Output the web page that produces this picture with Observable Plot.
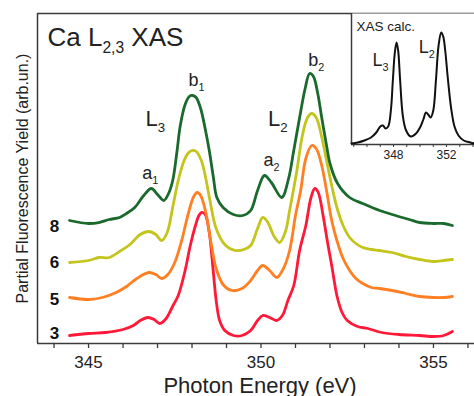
<!DOCTYPE html>
<html>
<head>
<meta charset="utf-8">
<script src="https://cdn.jsdelivr.net/npm/d3@7"></script>
<script src="https://cdn.jsdelivr.net/npm/@observablehq/plot@0.6"></script>
<style>
  body { margin: 0; background: #fff; }
  #wrap { position: relative; width: 474px; height: 396px; overflow: hidden; font-family: "Liberation Sans", Arial, sans-serif; }
  #wrap svg { position: absolute; top: 0; }
</style>
</head>
<body>
<div id="wrap"></div>
<script>
// ---------- data (energy in eV, intensity in arbitrary units) ----------
const seriesNames = ["3", "5", "6", "8"];
const seriesColors = ["#ff1838", "#ff7f22", "#c3c41c", "#1a692d"];
const seriesLabelLevels = [10, 44, 81, 117];

const spectrum3 = [[344.45,8],[345.0,10],[345.5,11],[346.0,14],[346.3,18],[346.5,23],[346.72,26],[346.9,24],[347.07,20],[347.25,25],[347.45,38],[347.6,48],[347.8,73],[347.95,98],[348.1,118],[348.2,128],[348.28,131],[348.38,129],[348.5,111],[348.6,78],[348.7,43],[348.8,23],[348.95,13],[349.2,8],[349.45,8],[349.7,13],[349.9,23],[350.05,28],[350.25,26],[350.45,23],[350.62,28],[350.78,43],[350.95,58],[351.12,93],[351.3,118],[351.45,146],[351.56,155],[351.66,151],[351.8,128],[351.92,103],[352.05,78],[352.2,48],[352.35,31],[352.5,23],[352.8,17],[353.1,15],[353.5,11],[354.0,9],[354.6,8],[355.0,7],[355.3,8],[355.55,12]];

const spectrum5 = [[344.45,46],[345.0,44],[345.4,46],[345.8,51],[346.1,57],[346.4,65],[346.75,71],[346.95,69],[347.12,65],[347.3,69],[347.5,81],[347.7,103],[347.9,131],[348.05,147],[348.15,151],[348.25,148],[348.4,131],[348.55,101],[348.7,75],[348.9,59],[349.15,53],[349.45,55],[349.7,63],[349.9,73],[350.05,78],[350.25,73],[350.46,66],[350.65,75],[350.83,93],[351.0,128],[351.15,153],[351.3,185],[351.47,198],[351.6,195],[351.76,178],[351.9,153],[352.05,123],[352.2,103],[352.38,85],[352.57,73],[352.75,65],[352.95,60],[353.2,56],[353.44,55],[353.8,53],[354.2,50],[354.6,47],[355.0,46],[355.3,46],[355.55,47]];

const spectrum6 = [[344.45,81],[345.0,83],[345.3,86],[345.6,86],[345.9,92],[346.2,99],[346.5,109],[346.75,112],[346.95,109],[347.12,103],[347.28,111],[347.45,138],[347.6,163],[347.75,181],[347.88,190],[348.0,193],[348.12,192],[348.27,183],[348.4,165],[348.52,143],[348.7,115],[348.95,99],[349.25,93],[349.5,94],[349.7,98],[349.9,115],[350.05,126],[350.2,121],[350.38,107],[350.54,101],[350.7,111],[350.83,133],[351.04,173],[351.2,208],[351.35,226],[351.47,230],[351.6,226],[351.75,208],[351.9,183],[352.05,158],[352.2,136],[352.38,118],[352.57,106],[352.75,100],[352.95,96],[353.2,94],[353.44,93],[353.8,91],[354.2,87],[354.6,84],[355.0,82],[355.3,83],[355.55,84]];

const spectrum8 = [[344.45,123],[345.0,120],[345.3,121],[345.6,124],[345.9,126],[346.1,130],[346.34,136],[346.6,148],[346.82,155],[347.0,149],[347.18,143],[347.32,150],[347.44,163],[347.56,191],[347.66,218],[347.8,239],[347.92,247],[348.02,248],[348.12,246],[348.25,235],[348.38,215],[348.5,193],[348.62,166],[348.72,146],[348.9,136],[349.2,129],[349.47,128],[349.7,133],[349.9,153],[350.1,168],[350.3,161],[350.6,146],[350.8,165],[350.95,193],[351.12,226],[351.28,255],[351.41,270],[351.52,267],[351.64,251],[351.76,226],[351.9,198],[352.0,180],[352.22,160],[352.57,146],[352.95,140],[353.44,133],[353.9,128],[354.3,124],[354.6,121],[355.0,120],[355.3,120],[355.55,118]];

const calcSpectrum = [[344.83,1],[345.3,2],[345.8,4],[346.3,7],[346.7,12],[347.0,18],[347.2,19],[347.4,16],[347.6,18],[347.8,34],[347.95,64],[348.1,92],[348.23,102],[348.35,94],[348.5,64],[348.7,29],[348.95,14],[349.3,8],[349.7,11],[350.0,17],[350.25,25],[350.45,32],[350.62,30],[350.8,27],[351.0,34],[351.2,64],[351.4,99],[351.6,112],[351.75,108],[351.9,94],[352.1,66],[352.35,36],[352.6,18],[352.9,9],[353.3,4],[353.8,2],[354.11,1]];

const mainTicks = [344,345,346,347,348,349,350,351,352,353,354,355,356];
const mainTickLabels = [345, 350, 355];
const insetTicks = [345,346,347,348,349,350,351,352,353,354];
const insetTickLabels = [348, 352];

// annotations: text, energy, intensity (text baseline)
const peakLabels = ["a_1", "b_1", "a_2", "b_2"];
const peakLabelE = [346.56, 347.9, 350.07, 351.37];
const peakLabelV = [165, 258, 178, 278];
const edgeLabels = ["L_3", "L_2"];
const edgeLabelE = [346.65, 350.2];
const edgeLabelV = [218, 218];
const insetEdgeLabels = ["L_3", "L_2"];
const insetEdgeE = [346.41, 349.9];
const insetEdgeV = [79, 92];

const titleText = "Ca L_{2,3} XAS";
const xLabel = "Photon Energy (eV)";
const yLabel = "Partial Fluorescence Yield (arb.un.)";
const insetTitle = "XAS calc.";

// ---------- build ----------
const FONT = '"Liberation Sans", Arial, sans-serif';
const INK = "#222";
const AX = "#3a3a3a";
const xDomain = [343.52, 356.19];
const yDomain = [0, 330];

const spectra = [spectrum3, spectrum5, spectrum6, spectrum8];
const rows = [];
spectra.forEach((s, i) => s.forEach(([e, v]) => rows.push({series: seriesNames[i], e, v})));
const labelRows = seriesNames.map((n, i) => ({n, e: 344.01, v: seriesLabelLevels[i]}));
const peakRows = peakLabels.map((t, i) => ({t, e: peakLabelE[i], v: peakLabelV[i]}));
const edgeRows = edgeLabels.map((t, i) => ({t, e: edgeLabelE[i], v: edgeLabelV[i]}));

const main = Plot.plot({
  width: 474, height: 396,
  marginLeft: 37, marginRight: 0, marginTop: 13, marginBottom: 53,
  style: {fontFamily: FONT, background: "white", overflow: "visible"},
  x: {domain: xDomain, label: null},
  y: {domain: yDomain, axis: null},
  color: {domain: seriesNames, range: seriesColors},
  marks: [
    Plot.ruleY([yDomain[1]], {stroke: AX, strokeWidth: 1.5}),
    Plot.ruleX([xDomain[0]], {stroke: AX, strokeWidth: 1.5}),
    Plot.ruleY([yDomain[0]], {stroke: AX, strokeWidth: 1.5}),
    Plot.axisX({ticks: mainTicks, tickFormat: () => "", tickSize: 5, stroke: AX, strokeWidth: 1.3, label: null}),
    Plot.axisX({ticks: mainTickLabels, tickSize: 0, tickPadding: 12, fontSize: 17, fill: INK, label: null}),
    Plot.line(rows, {x: "e", y: "v", z: "series", stroke: "series", strokeWidth: 2.8, curve: "catmull-rom"}),
    Plot.text(labelRows, {x: "e", y: "v", text: "n", fontWeight: "bold", fontSize: 17, fill: "#111", textAnchor: "middle", lineAnchor: "middle"}),
    Plot.text(peakRows, {x: "e", y: "v", text: "t", fontSize: 18, fill: INK, textAnchor: "start", lineAnchor: "bottom"}),
    Plot.text(edgeRows, {x: "e", y: "v", text: "t", fontSize: 22, fill: INK, textAnchor: "start", lineAnchor: "bottom"}),
    Plot.text([titleText], {frameAnchor: "top-left", text: d => d, dx: 10, dy: 32, fontSize: 26, fill: INK, textAnchor: "start", lineAnchor: "bottom"}),
    Plot.text([xLabel], {frameAnchor: "bottom", text: d => d, dx: 4, dy: 49, fontSize: 22, fill: INK, lineAnchor: "bottom"}),
    Plot.text([yLabel], {frameAnchor: "left", text: d => d, rotate: -90, dx: -10, fontSize: 16, fill: INK, textAnchor: "middle", lineAnchor: "bottom"})
  ]
});

const insetX = [344.83, 354.11];
const insetY = [0, 131];
const calcRows = calcSpectrum.map(([e, v]) => ({e, v}));
const insetLabelRows = insetEdgeLabels.map((t, i) => ({t, e: insetEdgeE[i], v: insetEdgeV[i]}));
const inset = Plot.plot({
  width: 134, height: 170,
  marginLeft: 11, marginRight: 0, marginTop: 13, marginBottom: 26,
  style: {fontFamily: FONT, background: "transparent", overflow: "visible"},
  x: {domain: insetX, label: null},
  y: {domain: insetY, axis: null},
  marks: [
    Plot.frame({fill: "white", stroke: null}),
    Plot.ruleX([insetX[0]], {stroke: AX, strokeWidth: 1.5}),
    Plot.ruleY([insetY[0]], {stroke: AX, strokeWidth: 1.5}),
    Plot.axisX({ticks: insetTicks, tickFormat: () => "", tickSize: 3, stroke: AX, label: null}),
    Plot.axisX({ticks: insetTickLabels, tickSize: 0, tickPadding: 6, fontSize: 12, fill: INK, label: null}),
    Plot.line(calcRows, {x: "e", y: "v", stroke: "#111", strokeWidth: 2, curve: "catmull-rom"}),
    Plot.text([insetTitle], {frameAnchor: "top-left", text: d => d, dx: 5, dy: 17, fontSize: 13.5, fill: INK, textAnchor: "start", lineAnchor: "bottom"}),
    Plot.text(insetLabelRows, {x: "e", y: "v", text: "t", fontSize: 18, fill: INK, textAnchor: "start", lineAnchor: "bottom"})
  ]
});
inset.style.left = "340px";

const wrap = document.getElementById("wrap");
main.style.left = "0px";
wrap.appendChild(main);
wrap.appendChild(inset);

// subscripts: "X_1" or "X_{2,3}"
function applySubs(root) {
  const NS = "http://www.w3.org/2000/svg";
  root.querySelectorAll("text").forEach(t => {
    const s = t.textContent;
    if (!s.includes("_") || t.children.length) return;
    const fs = parseFloat(getComputedStyle(t).fontSize) || 16;
    t.textContent = "";
    let shifted = false;
    const add = (str, sub) => {
      const ts = document.createElementNS(NS, "tspan");
      ts.textContent = str;
      if (sub) { ts.setAttribute("font-size", (fs * 0.6).toFixed(1) + "px"); ts.setAttribute("dy", (fs * 0.3).toFixed(1)); shifted = true; }
      else if (shifted) { ts.setAttribute("dy", (-fs * 0.3).toFixed(1)); shifted = false; }
      t.appendChild(ts);
    };
    const re = /_\{([^}]*)\}|_(.)/g;
    let last = 0, m;
    while ((m = re.exec(s))) {
      if (m.index > last) add(s.slice(last, m.index), false);
      add(m[1] !== undefined ? m[1] : m[2], true);
      last = re.lastIndex;
    }
    if (last < s.length) add(s.slice(last), false);
  });
}
applySubs(wrap);
</script>
</body>
</html>
